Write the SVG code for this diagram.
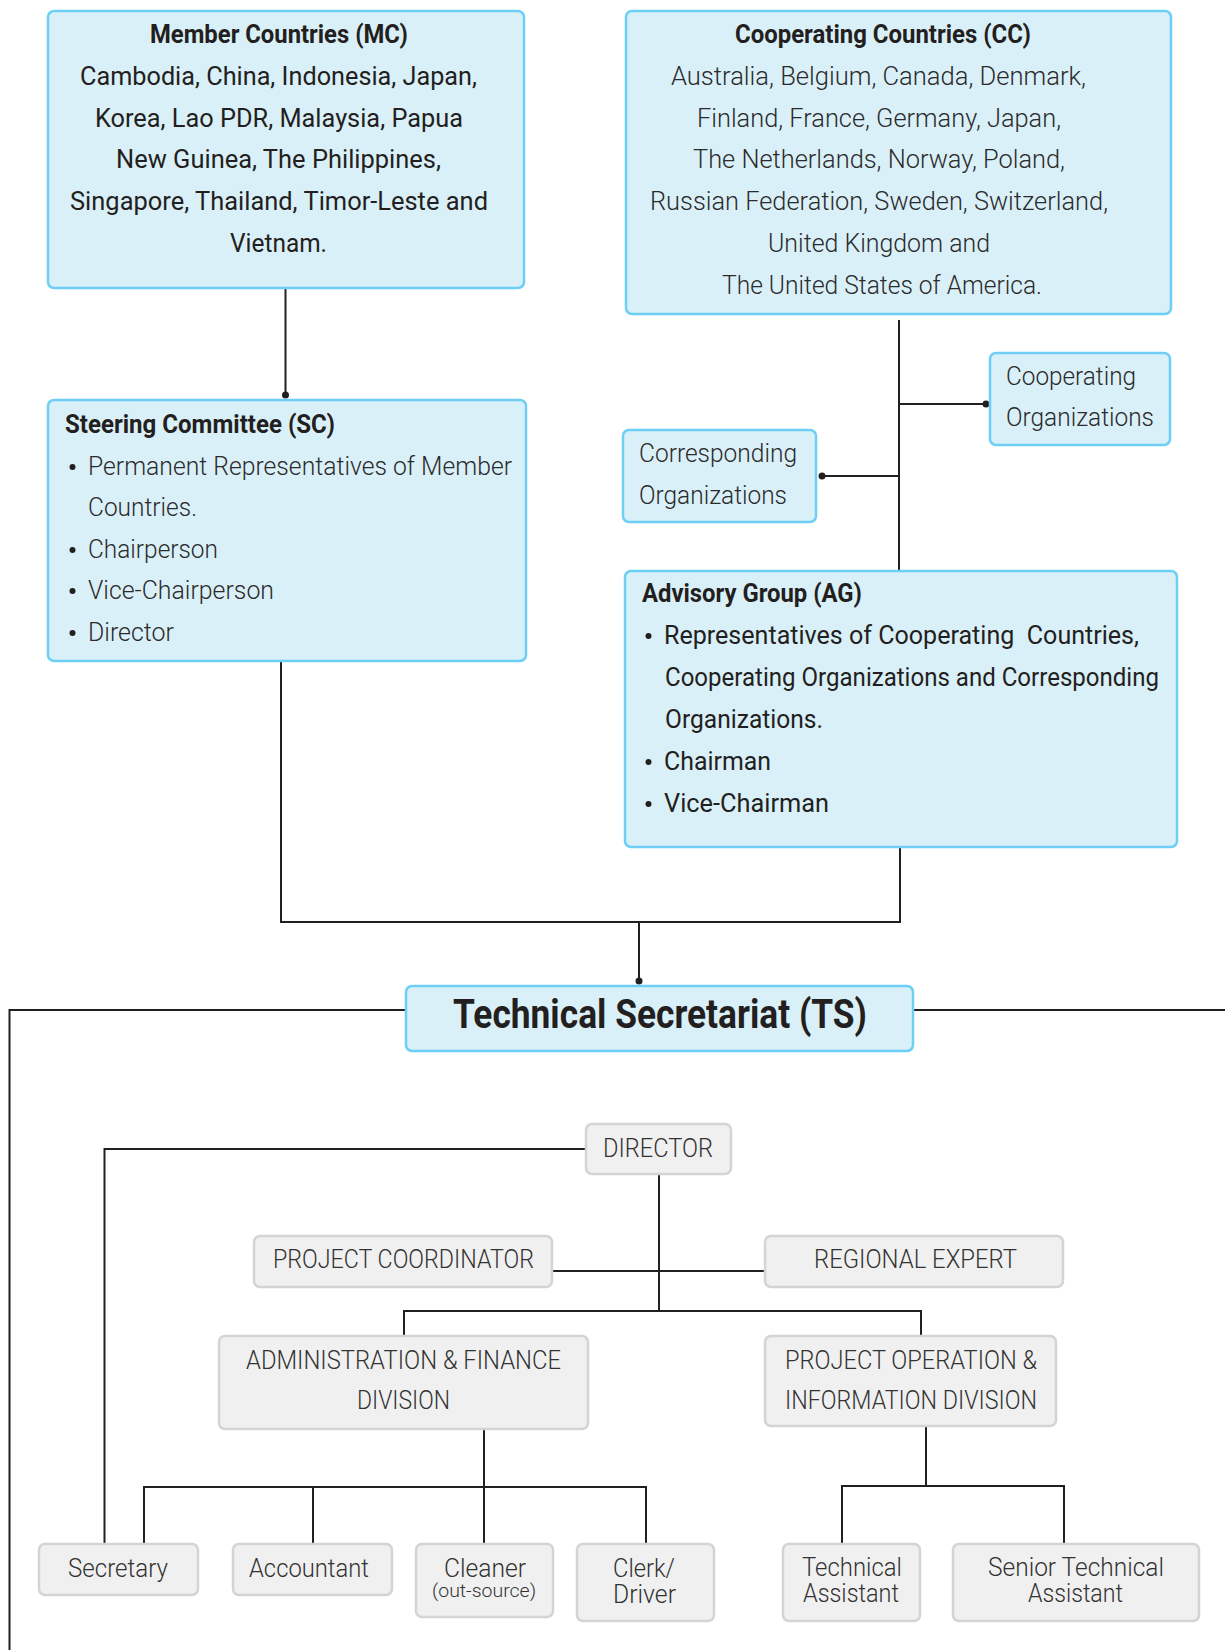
<svg xmlns="http://www.w3.org/2000/svg" width="1225" height="1650" viewBox="0 0 1225 1650">
<defs>
<style>
.bb{fill:#daf0f8;stroke:#6dcff6;stroke-width:2.5}
.gb{fill:#f0f0f0;stroke:#d4d4d4;stroke-width:2.5}
text{font-family:Roboto,"Liberation Sans",sans-serif;fill:#231f20;font-size:25px}
.t{font-weight:700}
.r{font-weight:400}
.l{font-weight:300;fill:#2b2b2b}
.g{font-weight:300;fill:#333;font-size:25px}
.s{font-size:18px}
.ts{font-weight:700;font-size:40px}
.c{fill:none;stroke:#231f20;stroke-width:2}
.d{fill:#231f20}
</style>
</defs>
<rect width="1225" height="1650" fill="#fff"/>
<g id="connectors">
<path class="c" d="M285.5 288V395"/>
<path class="c" d="M899 320V571"/>
<path class="c" d="M899 404H986"/>
<path class="c" d="M899 476H822"/>
<path class="c" d="M281 661V922H900V847"/>
<path class="c" d="M639 922V981"/>
<path class="c" d="M9.5 1650V1010H406"/>
<path class="c" d="M913 1010H1225"/>
<path class="c" d="M586 1149H104.5V1544"/>
<path class="c" d="M659 1175V1311"/>
<path class="c" d="M552 1271H765"/>
<path class="c" d="M404 1336V1311H921V1336"/>
<path class="c" d="M484 1429V1544"/>
<path class="c" d="M144 1544V1487H646V1544"/>
<path class="c" d="M313 1487V1544"/>
<path class="c" d="M926 1426V1486"/>
<path class="c" d="M842 1544V1486H1064V1544"/>
<circle class="d" cx="285.5" cy="395" r="3.5"/>
<circle class="d" cx="986" cy="404" r="3.5"/>
<circle class="d" cx="822" cy="476" r="3.5"/>
<circle class="d" cx="639" cy="981" r="3.5"/>
</g>
<g id="mc">
<rect class="bb" x="48" y="11" width="476" height="277" rx="6"/>
<text class="t" x="150" y="43" textLength="258" lengthAdjust="spacingAndGlyphs">Member Countries (MC)</text>
<text class="r" x="80" y="85" textLength="397" lengthAdjust="spacingAndGlyphs">Cambodia, China, Indonesia, Japan,</text>
<text class="r" x="95" y="127" textLength="368" lengthAdjust="spacingAndGlyphs">Korea, Lao PDR, Malaysia, Papua</text>
<text class="r" x="116" y="168" textLength="325" lengthAdjust="spacingAndGlyphs">New Guinea, The Philippines,</text>
<text class="r" x="70" y="210" textLength="418" lengthAdjust="spacingAndGlyphs">Singapore, Thailand, Timor-Leste and</text>
<text class="r" x="230" y="252" textLength="97" lengthAdjust="spacingAndGlyphs">Vietnam.</text>
</g>
<g id="cc">
<rect class="bb" x="626" y="11" width="545" height="303" rx="6"/>
<text class="t" x="735" y="43" textLength="296" lengthAdjust="spacingAndGlyphs">Cooperating Countries (CC)</text>
<text class="l" x="671" y="85" textLength="415" lengthAdjust="spacingAndGlyphs">Australia, Belgium, Canada, Denmark,</text>
<text class="l" x="697" y="127" textLength="364" lengthAdjust="spacingAndGlyphs">Finland, France, Germany, Japan,</text>
<text class="l" x="693" y="168" textLength="372" lengthAdjust="spacingAndGlyphs">The Netherlands, Norway, Poland,</text>
<text class="l" x="650" y="210" textLength="458" lengthAdjust="spacingAndGlyphs">Russian Federation, Sweden, Switzerland,</text>
<text class="l" x="768" y="252" textLength="222" lengthAdjust="spacingAndGlyphs">United Kingdom and</text>
<text class="l" x="722" y="294" textLength="320" lengthAdjust="spacingAndGlyphs">The United States of America.</text>
</g>
<g id="sc">
<rect class="bb" x="48" y="400" width="478" height="261" rx="6"/>
<text class="t" x="65" y="433" textLength="270" lengthAdjust="spacingAndGlyphs">Steering Committee (SC)</text>
<circle class="d" cx="72.5" cy="467" r="3"/>
<text class="l" x="88" y="475" textLength="424" lengthAdjust="spacingAndGlyphs">Permanent Representatives of Member</text>
<text class="l" x="88" y="516" textLength="109" lengthAdjust="spacingAndGlyphs">Countries.</text>
<circle class="d" cx="72.5" cy="550" r="3"/>
<text class="l" x="88" y="558" textLength="130" lengthAdjust="spacingAndGlyphs">Chairperson</text>
<circle class="d" cx="72.5" cy="591" r="3"/>
<text class="l" x="88" y="599" textLength="186" lengthAdjust="spacingAndGlyphs">Vice-Chairperson</text>
<circle class="d" cx="72.5" cy="633" r="3"/>
<text class="l" x="88" y="641" textLength="86" lengthAdjust="spacingAndGlyphs">Director</text>
</g>
<g id="coop-org">
<rect class="bb" x="990" y="353" width="180" height="92" rx="6"/>
<text class="l" x="1006" y="385" textLength="130" lengthAdjust="spacingAndGlyphs">Cooperating</text>
<text class="l" x="1006" y="426" textLength="148" lengthAdjust="spacingAndGlyphs">Organizations</text>
</g>
<g id="corr-org">
<rect class="bb" x="623" y="430" width="193" height="92" rx="6"/>
<text class="l" x="639" y="462" textLength="158" lengthAdjust="spacingAndGlyphs">Corresponding</text>
<text class="l" x="639" y="504" textLength="148" lengthAdjust="spacingAndGlyphs">Organizations</text>
</g>
<g id="ag">
<rect class="bb" x="625" y="571" width="552" height="276" rx="6"/>
<text class="t" x="642" y="602" textLength="220" lengthAdjust="spacingAndGlyphs">Advisory Group (AG)</text>
<circle class="d" cx="648.5" cy="636" r="3"/>
<text class="r" x="664" y="644" textLength="475" lengthAdjust="spacingAndGlyphs" xml:space="preserve">Representatives of Cooperating  Countries,</text>
<text class="r" x="665" y="686" textLength="494" lengthAdjust="spacingAndGlyphs">Cooperating Organizations and Corresponding</text>
<text class="r" x="665" y="728" textLength="158" lengthAdjust="spacingAndGlyphs">Organizations.</text>
<circle class="d" cx="648.5" cy="762" r="3"/>
<text class="r" x="664" y="770" textLength="107" lengthAdjust="spacingAndGlyphs">Chairman</text>
<circle class="d" cx="648.5" cy="804" r="3"/>
<text class="r" x="664" y="812" textLength="165" lengthAdjust="spacingAndGlyphs">Vice-Chairman</text>
</g>
<g id="ts">
<rect class="bb" x="406" y="986" width="507" height="65" rx="6"/>
<text class="ts" x="453" y="1028" textLength="414" lengthAdjust="spacingAndGlyphs">Technical Secretariat (TS)</text>
</g>
<g id="director">
<rect class="gb" x="586" y="1124" width="145" height="50" rx="6"/>
<text class="g" x="603" y="1157" textLength="110" lengthAdjust="spacingAndGlyphs">DIRECTOR</text>
</g>
<g id="project-coordinator">
<rect class="gb" x="254" y="1236" width="298" height="51" rx="6"/>
<text class="g" x="273" y="1268" textLength="261" lengthAdjust="spacingAndGlyphs">PROJECT COORDINATOR</text>
</g>
<g id="regional-expert">
<rect class="gb" x="765" y="1236" width="298" height="51" rx="6"/>
<text class="g" x="814" y="1268" textLength="203" lengthAdjust="spacingAndGlyphs">REGIONAL EXPERT</text>
</g>
<g id="admin-finance">
<rect class="gb" x="219" y="1336" width="369" height="93" rx="6"/>
<text class="g" x="246" y="1369" textLength="315" lengthAdjust="spacingAndGlyphs">ADMINISTRATION &amp; FINANCE</text>
<text class="g" x="357" y="1409" textLength="93" lengthAdjust="spacingAndGlyphs">DIVISION</text>
</g>
<g id="project-operation">
<rect class="gb" x="765" y="1336" width="291" height="90" rx="6"/>
<text class="g" x="785" y="1369" textLength="252" lengthAdjust="spacingAndGlyphs">PROJECT OPERATION &amp;</text>
<text class="g" x="785" y="1409" textLength="252" lengthAdjust="spacingAndGlyphs">INFORMATION DIVISION</text>
</g>
<g id="secretary">
<rect class="gb" x="39" y="1544" width="159" height="51" rx="6"/>
<text class="g" x="68" y="1577" textLength="100" lengthAdjust="spacingAndGlyphs">Secretary</text>
</g>
<g id="accountant">
<rect class="gb" x="233" y="1544" width="159" height="51" rx="6"/>
<text class="g" x="249" y="1577" textLength="120" lengthAdjust="spacingAndGlyphs">Accountant</text>
</g>
<g id="cleaner">
<rect class="gb" x="416" y="1544" width="137" height="73" rx="6"/>
<text class="g" x="444" y="1577" textLength="82" lengthAdjust="spacingAndGlyphs">Cleaner</text>
<text class="g s" x="432" y="1597" textLength="104" lengthAdjust="spacingAndGlyphs">(out-source)</text>
</g>
<g id="clerk-driver">
<rect class="gb" x="577" y="1544" width="137" height="77" rx="6"/>
<text class="g" x="613" y="1577" textLength="62" lengthAdjust="spacingAndGlyphs">Clerk/</text>
<text class="g" x="613" y="1603" textLength="63" lengthAdjust="spacingAndGlyphs">Driver</text>
</g>
<g id="technical-assistant">
<rect class="gb" x="783" y="1544" width="137" height="77" rx="6"/>
<text class="g" x="802" y="1576" textLength="100" lengthAdjust="spacingAndGlyphs">Technical</text>
<text class="g" x="803" y="1602" textLength="96" lengthAdjust="spacingAndGlyphs">Assistant</text>
</g>
<g id="senior-technical-assistant">
<rect class="gb" x="953" y="1544" width="246" height="77" rx="6"/>
<text class="g" x="988" y="1576" textLength="176" lengthAdjust="spacingAndGlyphs">Senior Technical</text>
<text class="g" x="1028" y="1602" textLength="95" lengthAdjust="spacingAndGlyphs">Assistant</text>
</g>
</svg>
